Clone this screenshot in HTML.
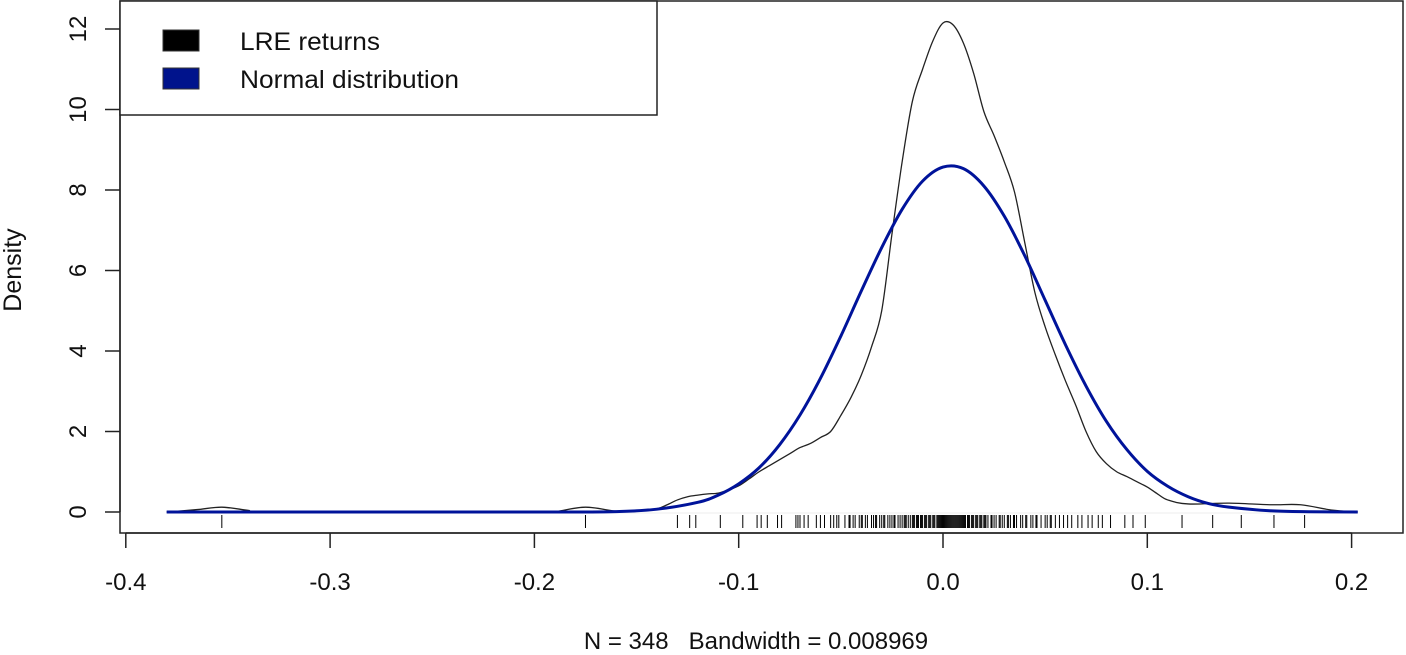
<!DOCTYPE html>
<html><head><meta charset="utf-8"><style>
html,body{margin:0;padding:0;background:#fff;}
svg{display:block;font-family:"Liberation Sans",Arial,sans-serif;}
</style></head><body>
<svg id="chart" width="1406" height="655" viewBox="0 0 1406 655" xmlns="http://www.w3.org/2000/svg">
<rect x="0" y="0" width="1406" height="655" fill="#fff"/>
<g id="plot"></g>
</svg>
<script>
const xTicks = [-0.4, -0.3, -0.2, -0.1, 0.0, 0.1, 0.2];
const xTickLabels = ["-0.4", "-0.3", "-0.2", "-0.1", "0.0", "0.1", "0.2"];
const yTicks = [0, 2, 4, 6, 8, 10, 12];
const yTickLabels = ["0", "2", "4", "6", "8", "10", "12"];
const kdeX = [-0.38,-0.365,-0.353,-0.34,-0.33,-0.2,-0.19,-0.175,-0.16,-0.15,-0.14,-0.135,-0.13,-0.125,-0.12,-0.115,-0.11,-0.105,-0.1,-0.095,-0.09,-0.085,-0.08,-0.075,-0.07,-0.065,-0.06,-0.055,-0.05,-0.045,-0.04,-0.035,-0.03,-0.025,-0.02,-0.015,-0.01,-0.005,0,0.005,0.01,0.015,0.02,0.025,0.03,0.035,0.04,0.045,0.05,0.055,0.06,0.065,0.07,0.075,0.08,0.085,0.09,0.095,0.1,0.105,0.11,0.12,0.14,0.16,0.175,0.19,0.203];
const kdeY = [0,0.06,0.12,0.04,0,0,0.01,0.12,0.02,0.02,0.08,0.18,0.3,0.38,0.42,0.45,0.47,0.55,0.65,0.82,1.0,1.15,1.3,1.45,1.6,1.7,1.85,2.0,2.4,2.85,3.4,4.1,5.0,6.9,8.7,10.2,11.0,11.7,12.15,12.1,11.65,10.9,9.95,9.35,8.7,7.95,6.7,5.45,4.6,3.9,3.25,2.65,2.0,1.5,1.2,1.0,0.88,0.75,0.62,0.45,0.3,0.2,0.22,0.18,0.18,0.05,0];
const normX = [-0.38,-0.2,-0.16,-0.14,-0.12,-0.11,-0.1,-0.09,-0.08,-0.07,-0.06,-0.05,-0.04,-0.03,-0.02,-0.01,0,0.01,0.02,0.03,0.04,0.05,0.06,0.07,0.08,0.09,0.1,0.11,0.12,0.13,0.14,0.16,0.18,0.203];
const normY = [0,0,0.01,0.07,0.24,0.42,0.7,1.1,1.67,2.41,3.32,4.37,5.49,6.57,7.52,8.22,8.57,8.53,8.1,7.35,6.37,5.26,4.15,3.13,2.25,1.55,1.01,0.64,0.38,0.21,0.12,0.03,0.006,0];
const rugValues = [-0.353,-0.175,-0.13,-0.124,-0.121,-0.109,-0.098,-0.091,-0.089,-0.086,-0.081,-0.079,-0.072,-0.071,-0.07,-0.068,-0.066,-0.062,-0.06,-0.058,-0.055,-0.052,-0.051,-0.048,-0.046,-0.044,-0.043,-0.041,-0.04,-0.038,-0.037,-0.035,-0.034,-0.033,-0.031,-0.03,-0.029,-0.027,-0.026,-0.025,-0.024,-0.022,-0.021,-0.02,-0.019,-0.018,-0.017,-0.016,-0.015,-0.014,-0.013,-0.012,-0.011,-0.01,-0.009,-0.008,-0.007,-0.006,-0.005,-0.004,-0.003,-0.002,-0.001,0,0.001,0.002,0.003,0.004,0.005,0.006,0.007,0.008,0.009,0.01,0.011,0.012,0.013,0.014,0.015,0.016,0.017,0.018,0.019,0.02,0.021,0.022,0.024,0.025,0.026,0.028,0.029,0.03,0.032,0.033,0.035,0.036,0.038,0.039,0.041,0.043,0.044,0.046,0.048,0.05,0.051,0.053,0.055,0.057,0.059,0.061,0.063,0.066,0.068,0.071,0.073,0.076,0.078,0.082,0.089,0.093,0.099,0.117,0.132,0.146,0.162,0.177,
-0.0235,-0.0185,-0.0145,-0.0125,-0.0105,-0.0085,-0.0065,-0.0045,-0.0025,-0.0015,-0.0005,0.0005,0.0015,0.0025,0.0035,0.0045,0.0055,0.0065,0.0075,0.0085,0.0095,0.0105,0.0125,0.0145,0.0165,0.0185,0.0205,0.0235,0.0275,0.0315,0.0345,0.0405,0.0455,0.0525,-0.0285,-0.0325,-0.0395,-0.0455,-0.0535];

const NS = "http://www.w3.org/2000/svg";
const g = document.getElementById('plot');
const X0 = 943, XS = 2043;
const Y0 = 512, YS = 40.25;
function sx(v){ return X0 + v*XS; }
function sy(v){ return Y0 - v*YS; }
function mk(tag, attrs, parent){
  const e = document.createElementNS(NS, tag);
  for (const k in attrs) e.setAttribute(k, attrs[k]);
  (parent||g).appendChild(e); return e;
}
function smoothPath(xs, ys){
  const p = xs.map((x,i)=>[sx(x), sy(ys[i])]);
  let d = "M"+p[0][0].toFixed(2)+","+p[0][1].toFixed(2);
  for (let i=0;i<p.length-1;i++){
    const p0=p[Math.max(0,i-1)], p1=p[i], p2=p[i+1], p3=p[Math.min(p.length-1,i+2)];
    const c1x=p1[0]+(p2[0]-p0[0])/6, c1y=p1[1]+(p2[1]-p0[1])/6;
    const c2x=p2[0]-(p3[0]-p1[0])/6, c2y=p2[1]-(p3[1]-p1[1])/6;
    d += " C"+c1x.toFixed(2)+","+c1y.toFixed(2)+" "+c2x.toFixed(2)+","+c2y.toFixed(2)+" "+p2[0].toFixed(2)+","+p2[1].toFixed(2);
  }
  return d;
}
const zl = mk('line',{x1:sx(-0.38),x2:sx(0.203),y1:sy(0)+1,y2:sy(0)+1,stroke:'#eee','stroke-width':1});


const rug = mk('g',{});


rugValues.forEach(v=>{
  const l = mk('line',{x1:sx(v),x2:sx(v),y1:515,y2:528,stroke:'#000','stroke-width':1},rug);
  
  
});
const kde = mk('path',{d:smoothPath(kdeX,kdeY),fill:'none',stroke:'#222','stroke-width':1.3});


const nl = mk('path',{d:smoothPath(normX,normY),fill:'none',stroke:'#00139a','stroke-width':3});


const box = mk('rect',{x:120,y:1,width:1283,height:532,fill:'none',stroke:'#222','stroke-width':1.5});


const xa = mk('g',{});


mk('line',{x1:sx(xTicks[0]),x2:sx(xTicks[xTicks.length-1]),y1:533,y2:533,stroke:'#222','stroke-width':1.5},xa);
xTicks.forEach((v,i)=>{
  const t = mk('line',{x1:sx(v),x2:sx(v),y1:533,y2:548,stroke:'#222','stroke-width':1.5},xa);
  
  
  const tx = mk('text',{x:sx(v),y:590,'text-anchor':'middle','font-size':24,fill:'#111'},xa);
  tx.textContent = xTickLabels[i];
  
  
});
const ya = mk('g',{});


mk('line',{x1:120,x2:120,y1:sy(yTicks[0]),y2:sy(yTicks[yTicks.length-1]),stroke:'#222','stroke-width':1.5},ya);
yTicks.forEach((v,i)=>{
  const t = mk('line',{x1:105,x2:120,y1:sy(v),y2:sy(v),stroke:'#222','stroke-width':1.5},ya);
  
  
  const tx = mk('text',{x:0,y:0,transform:'translate(86,'+sy(v)+') rotate(-90)','text-anchor':'middle','font-size':24,fill:'#111'},ya);
  tx.textContent = yTickLabels[i];
  
  
});
</script>
<svg style="position:absolute;left:0;top:0" width="1406" height="655">
<text transform="translate(21,270) rotate(-90)" text-anchor="middle" font-size="25" fill="#111" font-family="Liberation Sans, sans-serif">Density</text>
<text x="756" y="649" text-anchor="middle" font-size="24" fill="#111" font-family="Liberation Sans, sans-serif" xml:space="preserve" style="white-space:pre">N = 348   Bandwidth = 0.008969</text>
<g>
<rect x="120" y="1" width="537" height="114" fill="#fff" stroke="#222" stroke-width="1.5"/>
<rect x="163" y="30" width="36" height="21" fill="#000" stroke="#333"/>
<text x="240" y="50" font-size="25" fill="#111" font-family="Liberation Sans, sans-serif" textLength="140" lengthAdjust="spacingAndGlyphs">LRE returns</text>
<rect x="163" y="68" width="36" height="21" fill="#00138c" stroke="#333"/>
<text x="240" y="88" font-size="25" fill="#111" font-family="Liberation Sans, sans-serif" textLength="219" lengthAdjust="spacingAndGlyphs">Normal distribution</text>
</g>
</svg>
</body></html>
